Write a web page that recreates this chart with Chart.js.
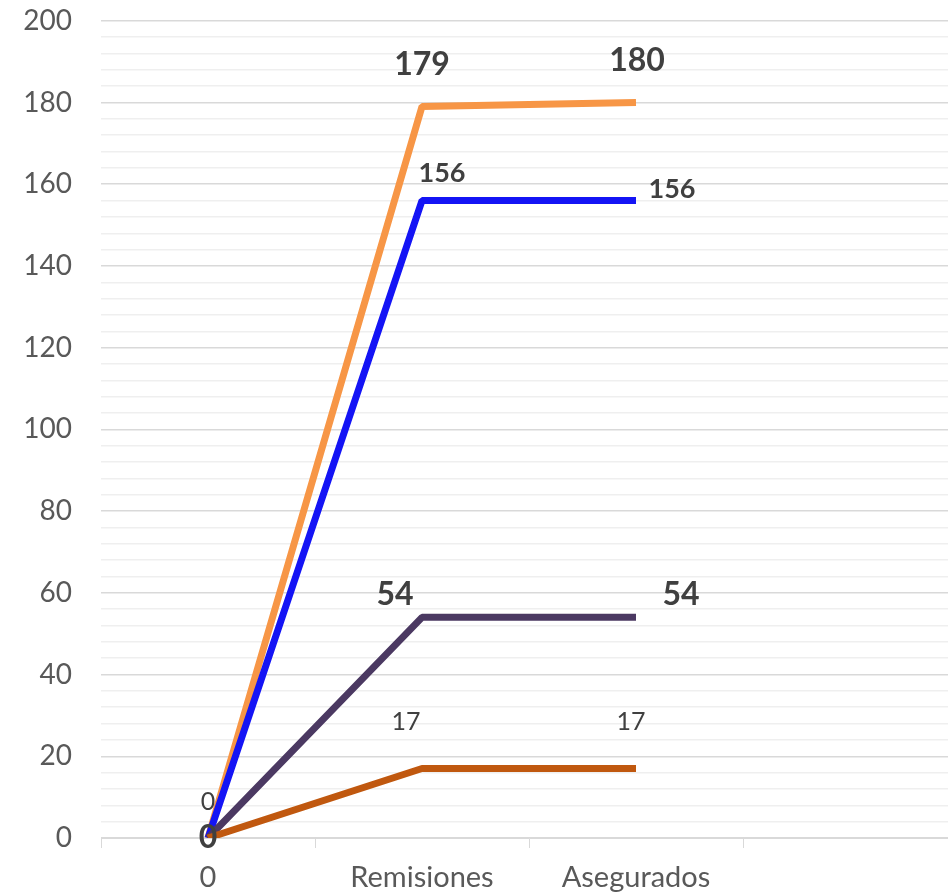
<!DOCTYPE html>
<html>
<head>
<meta charset="utf-8">
<script src="https://cdn.jsdelivr.net/npm/chart.js@4/dist/chart.umd.min.js"></script>
<style>
  html, body { margin: 0; padding: 0; background: #fff; overflow: hidden; }
  #c { display: block; }
</style>
</head>
<body>
<canvas id="c" width="957" height="896"></canvas>
<script>
// ---- data ----
const categories = ['0', 'Remisiones', 'Asegurados', ''];
const serieNaranja = [0, 179, 180, null];
const serieAzul    = [0, 156, 156, null];
const serieMorada  = [0, 54, 54, null];
const serieCafe    = [0, 17, 17, null];
const yTickStep = 4;
const yLabelStep = 20;

// ---- label placement (pixels offsets from point), kept separate from data ----
const labelCfg = [
  { font: 'bold 32px Lato', offsets: [null, [0, -42], [1, -42]] },           // naranja
  { font: 'bold 27px Lato', offsets: [null, [20, -27], [36, -11]] },          // azul
  { font: 'bold 32px Lato', offsets: [[0, 0], [-27, -23], [45, -23]] },       // morada
  { font: '25px Lato',      offsets: [null, [-16, -47], [-5, -47]] },         // cafe
];
const zeroLabel = { font: '25px Lato', dataset: 0, index: 0, offset: [0, -36] };

const labelPlugin = {
  id: 'valueLabels',
  afterDatasetsDraw(chart) {
    const ctx = chart.ctx;
    ctx.save();
    ctx.fillStyle = '#404040';
    ctx.textAlign = 'center';
    ctx.textBaseline = 'middle';
    chart.data.datasets.forEach((ds, di) => {
      const meta = chart.getDatasetMeta(di);
      const cfg = labelCfg[di];
      meta.data.forEach((pt, i) => {
        const off = cfg.offsets[i];
        if (!off || ds.data[i] == null) return;
        ctx.font = cfg.font;
        ctx.fillText(String(ds.data[i]), pt.x + off[0], pt.y + off[1]);
      });
    });
    const zm = chart.getDatasetMeta(zeroLabel.dataset).data[zeroLabel.index];
    ctx.font = zeroLabel.font;
    ctx.fillText(String(chart.data.datasets[zeroLabel.dataset].data[zeroLabel.index]),
      zm.x + zeroLabel.offset[0], zm.y + zeroLabel.offset[1]);
    ctx.restore();
  }
};

const common = { borderWidth: 7, pointRadius: 0, pointHoverRadius: 0, fill: false, tension: 0,
  borderJoinStyle: 'bevel', borderCapStyle: 'butt', spanGaps: false };

new Chart(document.getElementById('c'), {
  type: 'line',
  data: {
    labels: categories,
    datasets: [
      { ...common, label: 'A', data: serieNaranja, borderColor: '#F79646', order: 4 },
      { ...common, label: 'B', data: serieAzul, borderColor: '#1414F5', order: 3 },
      { ...common, label: 'C', data: serieMorada, borderColor: '#4B3962', order: 2 },
      { ...common, label: 'D', data: serieCafe, borderColor: '#C0580F', order: 1 },
    ]
  },
  options: {
    responsive: false,
    animation: false,
    layout: { padding: { top: 0, right: 0, left: 0, bottom: 0 } },
    plugins: { legend: { display: false }, tooltip: { enabled: false } },
    scales: {
      x: {
        offset: true,
        grid: { offset: true, drawOnChartArea: false, drawTicks: true, tickLength: 10, color: '#D9D9D9' },
        border: { display: true, color: '#D9D9D9', width: 1 },
        ticks: { color: '#595959', font: { family: 'Lato', size: 29 }, padding: 12, maxRotation: 0, autoSkip: false },
        afterFit(scale) { scale.height = 58; }
      },
      y: {
        min: 0, max: 200,
        grid: {
          drawTicks: true,
          tickLength: 25,
          tickColor: 'rgba(0,0,0,0)',
          color: (c) => (c.tick && c.tick.value % yLabelStep === 0) ? '#D9D9D9' : '#EFEFEF',
          lineWidth: 1.5
        },
        border: { display: false },
        ticks: {
          stepSize: yTickStep, autoSkip: false, padding: 4,
          color: '#595959', font: { family: 'Lato', size: 28 },
          callback: (v) => (v % yLabelStep === 0 ? String(v) : '')
        },
        afterFit(scale) { scale.width = 101; }
      }
    }
  },
  plugins: [labelPlugin]
});
</script>
</body>
</html>
